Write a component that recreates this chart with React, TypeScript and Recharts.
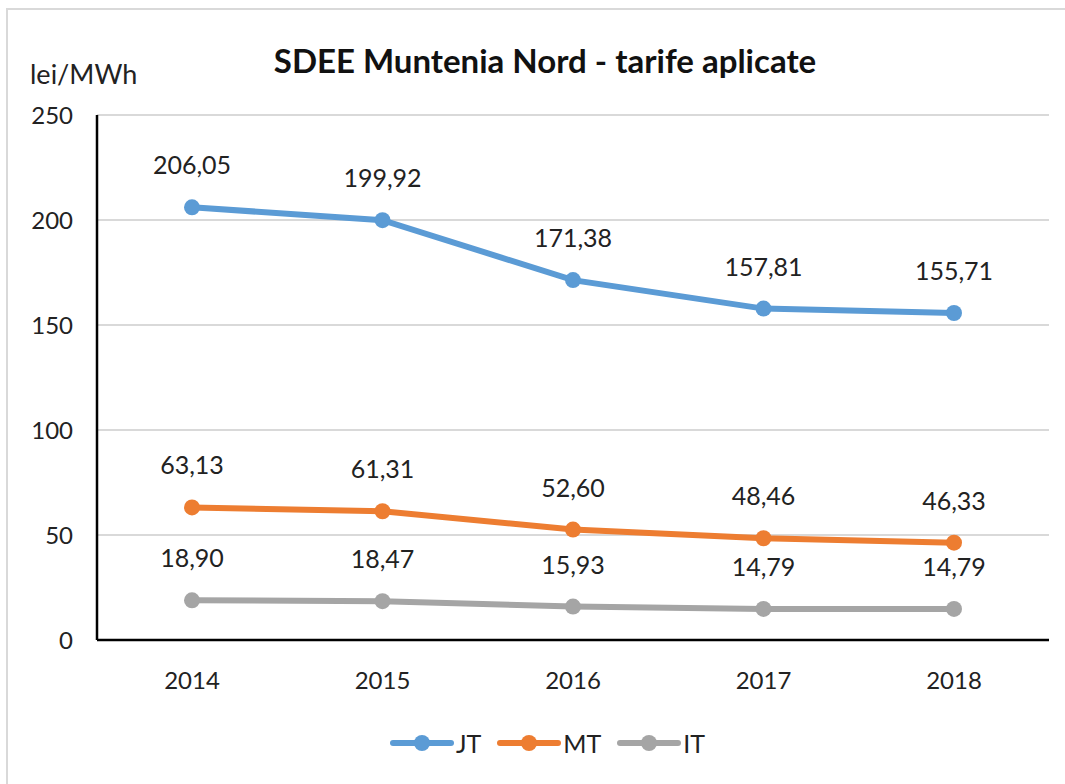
import { LineChart, Line, XAxis, YAxis, CartesianGrid, Legend, LabelList } from "recharts";

const years = ["2014", "2015", "2016", "2017", "2018"];
const jt = [206.05, 199.92, 171.38, 157.81, 155.71];
const mt = [63.13, 61.31, 52.6, 48.46, 46.33];
const it = [18.9, 18.47, 15.93, 14.79, 14.79];
const yTicks = [0, 50, 100, 150, 200, 250];

const series = [
  { key: "JT", color: "#5b9bd5" },
  { key: "MT", color: "#ed7d31" },
  { key: "IT", color: "#a5a5a5" },
];

const data = years.map((year, i) => ({ year, JT: jt[i], MT: mt[i], IT: it[i] }));

const FONT = "Lato, 'Open Sans', sans-serif";

const fmt = (v: any) => Number(v).toFixed(2).replace(".", ",");

function LegendContent() {
  return (
    <div style={{ display: "flex", justifyContent: "center", alignItems: "center", gap: 16, paddingLeft: 46 }}>
      {series.map((s) => (
        <div key={s.key} style={{ display: "flex", alignItems: "center" }}>
          <svg width={64} height={20}>
            <line x1={3} y1={10} x2={61} y2={10} stroke={s.color} strokeWidth={6} strokeLinecap="round" />
            <circle cx={32} cy={10} r={8} fill={s.color} />
          </svg>
          <span style={{ fontFamily: FONT, fontSize: 25, color: "#222", marginLeft: 2 }}>{s.key}</span>
        </div>
      ))}
    </div>
  );
}

export default function App() {
  return (
    <div style={{ position: "absolute", left: 0, top: 0, width: 1065, height: 784, background: "#fff", overflow: "hidden" }}>
      <div
        style={{
          position: "absolute",
          left: 6,
          top: 8,
          width: 1070,
          height: 790,
          borderTop: "2px solid #d9d9d9",
          borderLeft: "2px solid #d9d9d9",
          boxSizing: "border-box",
        }}
      />
      <div
        style={{
          position: "absolute",
          left: 0,
          width: 1090,
          top: 40,
          textAlign: "center",
          fontFamily: FONT,
          fontWeight: 700,
          fontSize: 33,
          color: "#111",
        }}
      >
        SDEE Muntenia Nord - tarife aplicate
      </div>
      <div style={{ position: "absolute", left: 30, top: 57, fontFamily: FONT, fontSize: 27, color: "#222" }}>
        lei/MWh
      </div>
      <div style={{ position: "absolute", left: 0, top: 0 }}>
        <LineChart width={1065} height={784} data={data} margin={{ top: 115, right: 16, left: 0, bottom: 10 }}>
          <CartesianGrid vertical={false} stroke="#d9d9d9" strokeWidth={2} />
          <XAxis
            dataKey="year"
            padding={{ left: 95, right: 95 }}
            axisLine={{ stroke: "#000", strokeWidth: 2.5 }}
            tickLine={false}
            tickMargin={26}
            height={88}
            tick={{ fontFamily: FONT, fontSize: 24, fill: "#222" }}
          />
          <YAxis
            domain={[0, 250]}
            ticks={yTicks}
            width={97}
            axisLine={{ stroke: "#000", strokeWidth: 2.5 }}
            tickLine={false}
            tickMargin={18}
            tick={{ fontFamily: FONT, fontSize: 24, fill: "#222" }}
          />
          <Legend verticalAlign="bottom" height={46} content={<LegendContent />} />
          {series.map((s) => (
            <Line
              key={s.key}
              dataKey={s.key}
              stroke={s.color}
              strokeWidth={6}
              dot={{ r: 8, fill: s.color, stroke: s.color, strokeWidth: 0 }}
              activeDot={false}
              isAnimationActive={false}
            >
              <LabelList
                dataKey={s.key}
                position="top"
                offset={33}
                formatter={fmt}
                style={{ fontFamily: FONT, fontSize: 25, fill: "#222" }}
              />
            </Line>
          ))}
        </LineChart>
      </div>
    </div>
  );
}
